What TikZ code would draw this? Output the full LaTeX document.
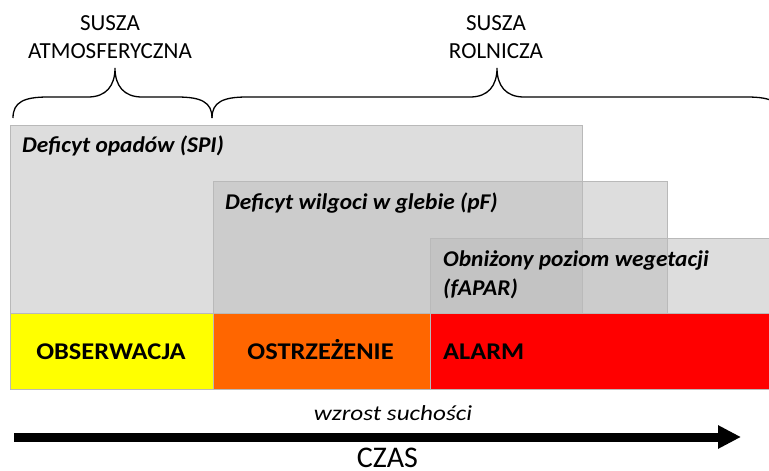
\documentclass[tikz,border=0pt]{standalone}
\usepackage{fontspec}
\setmainfont{Carlito}
\usetikzlibrary{arrows.meta}
\definecolor{boxedge}{RGB}{185,185,185}
\definecolor{shade}{RGB}{187,187,187}
\definecolor{obsyellow}{RGB}{255,255,0}
\definecolor{warnorange}{RGB}{255,102,0}
\definecolor{alarmred}{RGB}{255,0,0}
% horizontally widened text
\newcommand{\widetext}[2]{\scalebox{#1}[1]{#2}}
\begin{document}
\begin{tikzpicture}[x=1pt,y=-1pt,
  graybox/.style={draw=boxedge, line width=0.8pt, fill=shade, fill opacity=0.5,
    anchor=north west, inner sep=0pt, outer sep=0pt},
  levelbox/.style={draw=boxedge, line width=0.8pt, anchor=north west,
    inner sep=0pt, outer sep=0pt, minimum height=76pt},
  glabel/.style={anchor=base west, inner sep=0pt,
    font=\fontsize{22.5}{27}\selectfont\bfseries\itshape},
  lvlabel/.style={anchor=base, inner sep=0pt,
    font=\fontsize{24}{28}\selectfont\bfseries},
  toplabel/.style={align=center, inner sep=0pt,
    font=\fontsize{23}{27.5}\selectfont},
  brace/.style={line width=1.3pt, black}]
\useasboundingbox (0,0) rectangle (769,471);

% indicator periods (semi-transparent, overlapping)
\node[graybox, minimum width=572pt, minimum height=188pt] (spi) at (10,125) {};
\node[graybox, minimum width=454pt, minimum height=132pt] (pf) at (213,181) {};
\node[graybox, minimum width=345pt, minimum height=75pt] (fapar) at (430,238) {};

% warning levels
\node[levelbox, fill=obsyellow, minimum width=203pt] (obs) at (10,313) {};
\node[levelbox, fill=warnorange, minimum width=217pt] (warn) at (213,313) {};
\node[levelbox, fill=alarmred, minimum width=345pt] (alarm) at (430,313) {};

% indicator labels
\node[glabel] (tspi) at (22,152.5) {\widetext{1.04}{Deficyt opadów (SPI)}};
\node[glabel] (tpf) at (225,209.5) {\widetext{1.04}{Deficyt wilgoci w glebie (pF)}};
\node[glabel] (tfa1) at (443,266.5) {\widetext{1.04}{Obniżony poziom wegetacji}};
\node[glabel] (tfa2) at (443,295) {\widetext{1.04}{(fAPAR)}};

% level labels
\node[lvlabel] (tobs) at (111,359.5) {\widetext{1.1}{OBSERWACJA}};
\node[lvlabel] (twarn) at (320.5,359.5) {\widetext{1.1}{OSTRZEŻENIE}};
\node[lvlabel, anchor=base west] (talarm) at (443,359.5) {\widetext{1.1}{ALARM}};

% drought type braces
\draw[brace] (13,118) .. controls (13,102) and (24,97) .. (48,97)
  -- (88,97) .. controls (106,97) and (115,86) .. (115,68)
  .. controls (115,86) and (124,97) .. (142,97)
  -- (177,97) .. controls (201,97) and (212,102) .. (212,118);
\draw[brace] (212,118) .. controls (212,102) and (223,97) .. (247,97)
  -- (470,97) .. controls (488,97) and (497,86) .. (497,68)
  .. controls (497,86) and (506,97) .. (524,97)
  -- (747,97) .. controls (771,97) and (782,102) .. (782,118);
\node[toplabel] (tatm) at (110,37) {SUSZA\\ATMOSFERYCZNA};
\node[toplabel] (trol) at (496,37) {SUSZA\\ROLNICZA};

% time axis
\node[anchor=base, inner sep=0pt, font=\fontsize{21.5}{26}\selectfont\itshape]
  (dry) at (393,420.5) {\widetext{1.17}{wzrost suchości}};
\coordinate (tstart) at (14,437);
\coordinate (tend) at (741,437);
\draw[line width=9pt, -{Triangle[length=23pt,width=22pt]}] (tstart) -- (tend);
\node[anchor=base, inner sep=0pt, font=\fontsize{30}{34}\selectfont]
  (czas) at (387.5,467.5) {CZAS};
\end{tikzpicture}
\end{document}
